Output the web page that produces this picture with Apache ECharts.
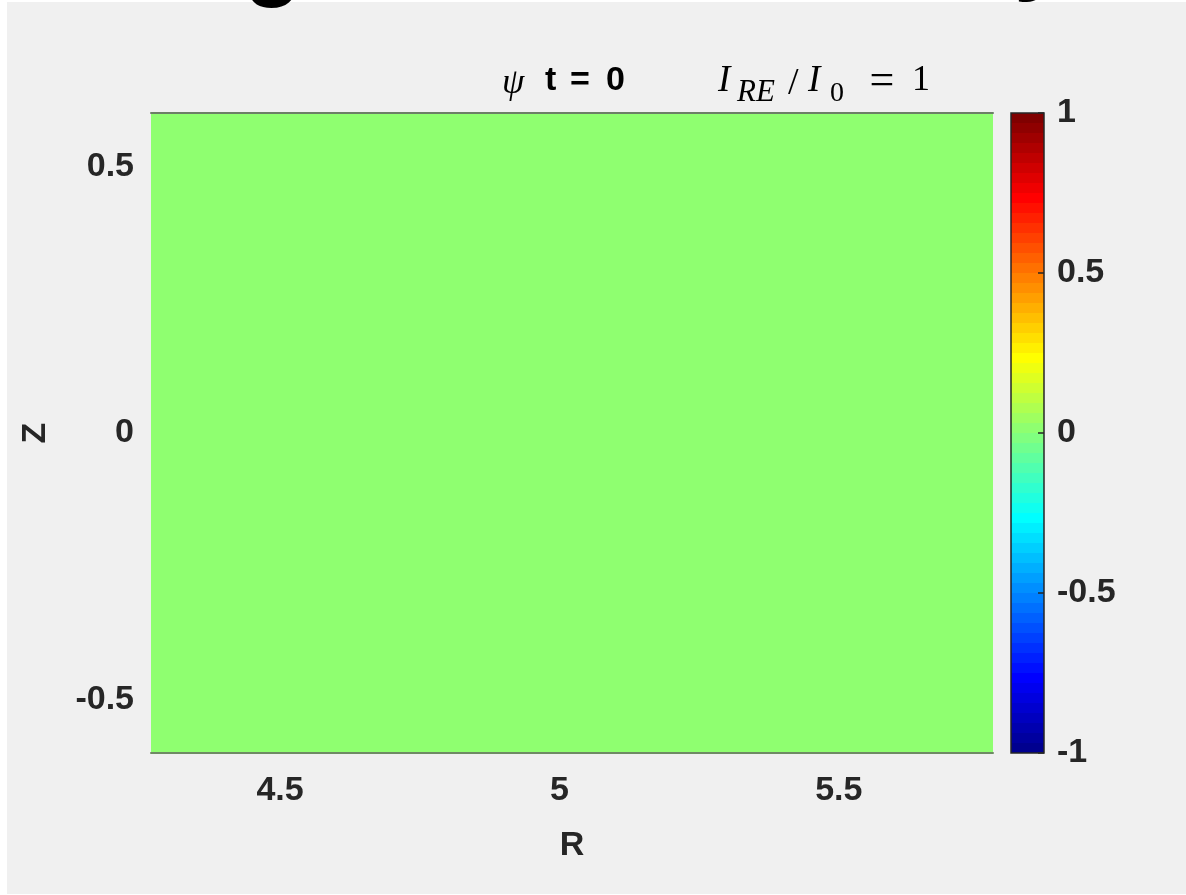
<!DOCTYPE html>
<html>
<head>
<meta charset="utf-8">
<script src="https://cdn.jsdelivr.net/npm/echarts@6/dist/echarts.min.js"></script>
<style>
  html, body { margin: 0; padding: 0; background: #ffffff; }
  #chart { width: 1186px; height: 895px; }
</style>
</head>
<body>
<div id="chart"></div>
<script>
// Domain of the poloidal cross-section (R, Z)
const R_LIMITS = [4.269, 5.776];
const Z_LIMITS = [-0.6, 0.6];
const R_TICKS = [4.5, 5, 5.5];
const Z_TICKS = [-0.5, 0, 0.5];

// Colour limits and colorbar ticks for psi
const PSI_LIMITS = [-1, 1];
const PSI_TICKS = [-1, -0.5, 0, 0.5, 1];

// psi at t = 0: uniform over the whole domain
const PSI_VALUES = [0];

const LABEL_FONT = '"Liberation Sans", Arial, Helvetica, sans-serif';
const MATH_FONT = '"Liberation Serif", "DejaVu Serif", serif';
const INK = '#262626';

// MATLAB-style 64-level jet colormap
function jetMap(m) {
  const n = Math.ceil(m / 4);
  const u = [];
  for (let i = 1; i <= n; i++) u.push(i / n);
  for (let i = 1; i < n; i++) u.push(1);
  for (let i = n; i >= 1; i--) u.push(i / n);
  const off = Math.ceil(n / 2) - (m % 4 === 1 ? 1 : 0);
  const rgb = [];
  for (let i = 0; i < m; i++) rgb.push([0, 0, 0]);
  u.forEach((val, k) => {
    const g = off + k + 1, r = g + n, b = g - n;
    if (g >= 1 && g <= m) rgb[g - 1][1] = val;
    if (r >= 1 && r <= m) rgb[r - 1][0] = val;
    if (b >= 1 && b <= m) rgb[b - 1][2] = val;
  });
  return rgb.map(c => 'rgb(' + c.map(x => Math.round(x * 255)).join(',') + ')');
}
const JET = jetMap(64);

function jetColor(v) {
  const t = (v - PSI_LIMITS[0]) / (PSI_LIMITS[1] - PSI_LIMITS[0]);
  const idx = Math.max(0, Math.min(JET.length - 1, Math.floor(t * JET.length)));
  return JET[idx];
}

// Stepped gradient stops for the colorbar (bottom = low)
const barStops = [];
JET.forEach((c, i) => {
  barStops.push({ offset: i / JET.length, color: c });
  barStops.push({ offset: (i + 1) / JET.length, color: c });
});

const psiField = [[R_LIMITS[0], R_LIMITS[1], Z_LIMITS[0], Z_LIMITS[1], PSI_VALUES[0]]];
const colorbarData = [[0, 1, PSI_LIMITS[0], PSI_LIMITS[1]]];

const tickLabel = { fontFamily: LABEL_FONT, fontWeight: 'bold', fontSize: 34, color: INK };

function txt(text, x, y, font, opts) {
  return {
    type: 'text', z: 20, silent: true,
    style: Object.assign({ text: text, x: x, y: y, font: font, fill: '#000000',
      textAlign: 'left', textVerticalAlign: 'middle' }, opts || {})
  };
}

const chart = echarts.init(document.getElementById('chart'), null, { renderer: 'canvas' });

chart.setOption({
  backgroundColor: '#f0f0f0',
  animation: false,
  grid: [
    { left: 151, top: 113, width: 842, height: 640 },
    { left: 1011, top: 113, width: 33, height: 640 }
  ],
  xAxis: [
    {
      gridIndex: 0, type: 'value', position: 'bottom',
      min: R_LIMITS[0], max: R_LIMITS[1],
      name: 'R', nameLocation: 'middle', nameGap: 76,
      nameTextStyle: tickLabel,
      axisLine: { show: true, onZero: false, lineStyle: { color: '#6f8a64', width: 2 } },
      axisTick: { show: false },
      splitLine: { show: false },
      axisLabel: Object.assign({ customValues: R_TICKS, margin: 21 }, tickLabel),
      z: 10
    },
    {
      gridIndex: 0, type: 'value', position: 'top',
      min: R_LIMITS[0], max: R_LIMITS[1],
      axisLine: { show: true, onZero: false, lineStyle: { color: '#6c7f66', width: 2 } },
      axisTick: { show: false },
      axisLabel: { show: false },
      splitLine: { show: false },
      z: 10
    },
    {
      gridIndex: 1, type: 'value', min: 0, max: 1, show: false,
      axisLine: { onZero: false }
    }
  ],
  yAxis: [
    {
      gridIndex: 0, type: 'value',
      min: Z_LIMITS[0], max: Z_LIMITS[1],
      name: 'Z', nameLocation: 'middle', nameGap: 98,
      nameTextStyle: tickLabel,
      axisLine: { show: false, onZero: false },
      axisTick: { show: false },
      splitLine: { show: false },
      axisLabel: Object.assign({ customValues: Z_TICKS, margin: 17 }, tickLabel),
      z: 10
    },
    {
      gridIndex: 1, type: 'value', position: 'right',
      min: PSI_LIMITS[0], max: PSI_LIMITS[1], interval: 0.5,
      axisLine: { show: false, onZero: false },
      axisTick: { show: false },
      splitLine: { show: false },
      axisLabel: Object.assign({ customValues: PSI_TICKS, margin: 13 }, tickLabel),
      z: 10
    }
  ],
  series: [
    {
      type: 'custom', name: 'psi',
      xAxisIndex: 0, yAxisIndex: 0,
      data: psiField,
      encode: { x: [0, 1], y: [2, 3] },
      renderItem: function (params, api) {
        const p0 = api.coord([api.value(0), api.value(3)]);
        const p1 = api.coord([api.value(1), api.value(2)]);
        return {
          type: 'rect',
          shape: { x: p0[0], y: p0[1], width: p1[0] - p0[0], height: p1[1] - p0[1] },
          style: { fill: jetColor(api.value(4)) }
        };
      },
      z: 2
    },
    {
      type: 'custom', name: 'colorbar',
      xAxisIndex: 2, yAxisIndex: 1,
      data: colorbarData,
      encode: { x: [0, 1], y: [2, 3] },
      renderItem: function (params, api) {
        const p0 = api.coord([api.value(0), api.value(3)]);
        const p1 = api.coord([api.value(1), api.value(2)]);
        const shape = { x: p0[0], y: p0[1], width: p1[0] - p0[0], height: p1[1] - p0[1] };
        const children = [
          { type: 'rect', shape: shape,
            style: { fill: new echarts.graphic.LinearGradient(0, 1, 0, 0, barStops) } },
          { type: 'rect', shape: shape,
            style: { fill: 'none', stroke: INK, lineWidth: 1.5 } }
        ];
        // inward ticks along the labelled (right) edge
        PSI_TICKS.forEach(function (v) {
          const p = api.coord([1, v]);
          children.push({
            type: 'line',
            shape: { x1: p[0] - 6, y1: p[1], x2: p[0], y2: p[1] },
            style: { stroke: INK, lineWidth: 1.5 }
          });
        });
        return { type: 'group', children: children };
      },
      z: 2
    }
  ],
  graphic: [
    // page margins outside the figure panel
    { type: 'rect', silent: true, z: 1, shape: { x: 0, y: 0, width: 7, height: 895 }, style: { fill: '#ffffff' } },
    { type: 'rect', silent: true, z: 1, shape: { x: 0, y: 0, width: 1186, height: 2 }, style: { fill: '#ffffff' } },
    { type: 'rect', silent: true, z: 1, shape: { x: 0, y: 894, width: 1186, height: 1 }, style: { fill: '#ffffff' } },
    // slide heading above the figure
    txt('g', 244, -38, 'bold 94px ' + LABEL_FONT),
    txt('y', 1014, -44, 'bold 94px ' + LABEL_FONT),
    // axes title
    txt('\u03c8', 502, 84, 'italic 36px "Liberation Serif", serif'),
    txt('t', 545, 81, 'bold 34px ' + LABEL_FONT),
    txt('=', 570, 81, 'bold 34px ' + LABEL_FONT),
    txt('0', 606, 81, 'bold 34px ' + LABEL_FONT),
    // current ratio annotation
    txt('I', 718, 81, 'italic 37px ' + MATH_FONT),
    txt('RE', 737, 93, 'italic 31px ' + MATH_FONT),
    txt('/', 788, 84, '38px ' + MATH_FONT),
    txt('I', 808, 81, 'italic 37px ' + MATH_FONT),
    txt('0', 830, 94, '28px ' + MATH_FONT),
    txt('=', 882, 82, '44px ' + MATH_FONT, { textAlign: 'center' }),
    txt('1', 912, 81, '36px ' + MATH_FONT)
  ]
});
</script>
</body>
</html>
